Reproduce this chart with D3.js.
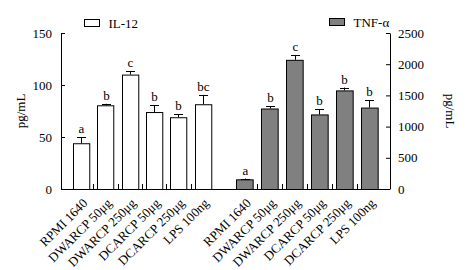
<!DOCTYPE html>
<html>
<head>
<meta charset="utf-8">
<script src="https://cdn.jsdelivr.net/npm/d3@7"></script>
<style>
  body { margin: 0; background: #fff; }
  text { font-family: "Liberation Serif", "Times New Roman", serif; fill: #000; }
</style>
</head>
<body>
<div id="chart"></div>
<script>
const categories = ["RPMI 1640", "DWARCP 50μg", "DWARCP 250μg", "DCARCP 50μg", "DCARCP 250μg", "LPS 100ng"];

// IL-12 (left axis, pg/mL)
const il12 = [44, 80.5, 110, 74, 69, 81.5];
const il12Err = [6, 1.5, 3.5, 6.5, 3, 9];
const il12Sig = ["a", "b", "c", "b", "b", "bc"];

// TNF-alpha (right axis, pg/mL)
const tnf = [155, 1290, 2070, 1195, 1580, 1305];
const tnfErr = [12, 35, 70, 85, 45, 115];
const tnfSig = ["a", "b", "c", "b", "b", "b"];

const leftTicks = [0, 50, 100, 150];
const rightTicks = [0, 500, 1000, 1500, 2000, 2500];

const width = 465;
const height = 270;
const margins = [33, 75, 81, 61]; // top, right, bottom, left

const svg = d3.select("#chart")
  .append("svg")
  .attr("width", width)
  .attr("height", height);

const [mt, mr, mb, ml] = margins;
const y0 = height - mb;        // baseline
const xRight = width - mr;     // right axis position

const yLeft = d3.scaleLinear().domain([0, 150]).range([y0, mt]);
const yRight = d3.scaleLinear().domain([0, 2500]).range([y0, mt]);

const xIL = d3.scaleBand().domain(categories)
  .range([ml, 223]).paddingInner(0.33).paddingOuter(0.5);
const xTNF = d3.scaleBand().domain(categories)
  .range([224, xRight]).paddingInner(0.33).paddingOuter(0.5);

// axes
svg.append("g")
  .attr("transform", `translate(${ml},0)`)
  .call(d3.axisLeft(yLeft).tickValues(leftTicks).tickSizeInner(-4).tickSizeOuter(0).tickPadding(9))
  .call(g => g.selectAll("text").style("font-size", "13px").style("font-family", "Liberation Serif"));

svg.append("g")
  .attr("transform", `translate(${xRight},0)`)
  .call(d3.axisRight(yRight).tickValues(rightTicks).tickFormat(d3.format("d"))
    .tickSizeInner(-4).tickSizeOuter(0).tickPadding(8))
  .call(g => g.selectAll("text").style("font-size", "13px").style("font-family", "Liberation Serif"));

svg.append("line")
  .attr("x1", ml).attr("x2", xRight)
  .attr("y1", y0 + 0.5).attr("y2", y0 + 0.5)
  .attr("stroke", "#000");

function drawGroup(x, y, values, errs, sig, fill) {
  const g = svg.append("g");
  const gap = x.step() * x.paddingInner() / 2;

  // small inner ticks between bars
  g.selectAll(".tick-x")
    .data(categories.slice(1))
    .join("line")
    .attr("x1", d => Math.round(x(d) - gap) + 0.5)
    .attr("x2", d => Math.round(x(d) - gap) + 0.5)
    .attr("y1", y0).attr("y2", y0 - 5)
    .attr("stroke", "#000");

  g.selectAll("rect")
    .data(values)
    .join("rect")
    .attr("x", (d, i) => Math.round(x(categories[i])) + 0.5)
    .attr("y", d => y(d) + 0.5)
    .attr("width", x.bandwidth())
    .attr("height", d => y0 - y(d))
    .attr("fill", fill)
    .attr("stroke", "#000")
    .attr("stroke-width", 1);

  // upper error bars
  values.forEach((v, i) => {
    const cx = Math.round(x(categories[i]) + x.bandwidth() / 2) + 0.5;
    const top = y(v + errs[i]);
    g.append("line")
      .attr("x1", cx).attr("x2", cx)
      .attr("y1", y(v)).attr("y2", top)
      .attr("stroke", "#000");
    g.append("line")
      .attr("x1", cx - 4.5).attr("x2", cx + 4.5)
      .attr("y1", Math.round(top) + 0.5).attr("y2", Math.round(top) + 0.5)
      .attr("stroke", "#000");
    g.append("text")
      .attr("x", cx)
      .attr("y", top - 4)
      .attr("text-anchor", "middle")
      .style("font-size", "13px")
      .text(sig[i]);
  });

  // rotated category labels
  g.selectAll(".cat")
    .data(categories)
    .join("text")
    .attr("text-anchor", "end")
    .attr("transform", d => `translate(${x(d) + x.bandwidth() / 2 + 7}, ${y0 + 15}) rotate(-45)`)
    .style("font-size", "13px")
    .text(d => d);
}

drawGroup(xIL, yLeft, il12, il12Err, il12Sig, "#fff");
drawGroup(xTNF, yRight, tnf, tnfErr, tnfSig, "#808080");

// axis titles
svg.append("text")
  .attr("transform", `translate(25, ${(mt + y0) / 2}) rotate(-90)`)
  .attr("text-anchor", "middle")
  .style("font-size", "13px")
  .text("pg/mL");

svg.append("text")
  .attr("transform", `translate(446, ${(mt + y0) / 2}) rotate(90)`)
  .attr("text-anchor", "middle")
  .style("font-size", "13px")
  .text("pg/mL");

// legends
const legendItems = [
  { label: "IL-12", fill: "#fff", x: 84.5, y: 19.5 },
  { label: "TNF-α", fill: "#808080", x: 329.5, y: 18.5 }
];
legendItems.forEach(d => {
  svg.append("rect")
    .attr("x", d.x).attr("y", d.y)
    .attr("width", 15).attr("height", 7)
    .attr("fill", d.fill)
    .attr("stroke", "#000");
  svg.append("text")
    .attr("x", d.x + 24)
    .attr("y", d.y + 8)
    .style("font-size", "13px")
    .text(d.label);
});
</script>
</body>
</html>
